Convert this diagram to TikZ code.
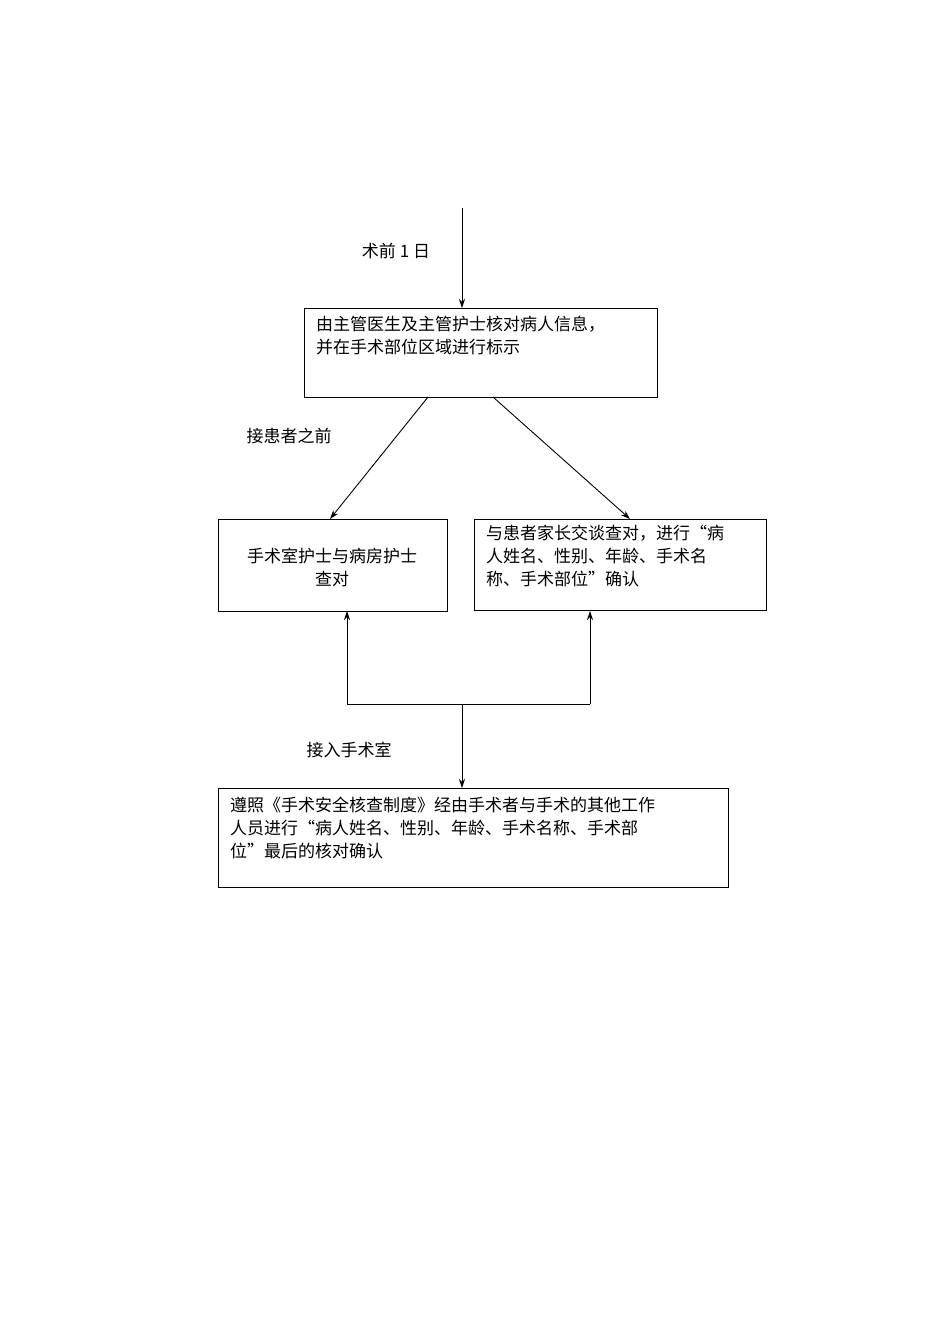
\documentclass[tikz,border=0pt]{standalone}
\usepackage{fontspec}
\setmainfont{Noto Sans CJK SC}
\usetikzlibrary{arrows.meta}
\begin{document}
\begin{tikzpicture}[x=1pt,y=-1pt,
  box/.style={draw,line width=1pt,inner sep=0},
  txt/.style={font=\fontsize{17}{23}\selectfont,inner sep=0},
  arr/.style={-{Stealth[length=9pt,width=6pt]},line width=0.9pt}]
\useasboundingbox[fill=white] (0,0) rectangle (950,1344);
\draw[box] (304,308) rectangle (657,397) coordinate (b1);
\node[txt,anchor=north west,align=left] (t1) at (316,316) {由主管医生及主管护士核对病人信息，\\并在手术部位区域进行标示};
\draw[box] (218,519) rectangle (447,611);
\node[txt,align=center] (t2) at (332,567) {手术室护士与病房护士\\查对};
\draw[box] (474,519) rectangle (766,610);
\node[txt,anchor=north west,align=left] (t3) at (486,525) {与患者家长交谈查对，进行“病\\人姓名、性别、年龄、手术名\\称、手术部位”确认};
\draw[box] (218,788) rectangle (728,887);
\node[txt,anchor=north west,align=left] (t4) at (230,797) {遵照《手术安全核查制度》经由手术者与手术的其他工作\\人员进行“病人姓名、性别、年龄、手术名称、手术部\\位”最后的核对确认};
\coordinate (s) at (462,208);
\coordinate (b1top) at (462,308);
\draw[arr] (s) -- (b1top);
\node[txt] (l1) at (396,251) {术前 1 日};
\coordinate (d1) at (428,397); \coordinate (d1e) at (330,519);
\coordinate (d2) at (493,397); \coordinate (d2e) at (630,519);
\draw[arr] (d1) -- (d1e);
\draw[arr] (d2) -- (d2e);
\node[txt] (l2) at (289,436) {接患者之前};
\coordinate (j) at (462,704);
\coordinate (jl) at (347,704); \coordinate (jr) at (590,704);
\coordinate (ul) at (347,611); \coordinate (ur) at (590,611);
\coordinate (b4top) at (462,788);
\draw[line width=0.9pt] (jl) -- (jr);
\draw[arr] (j) -- (b4top);
\draw[arr] (jl) -- (ul);
\draw[arr] (jr) -- (ur);
\node[txt] (l3) at (349,750) {接入手术室};
\end{tikzpicture}
\end{document}
